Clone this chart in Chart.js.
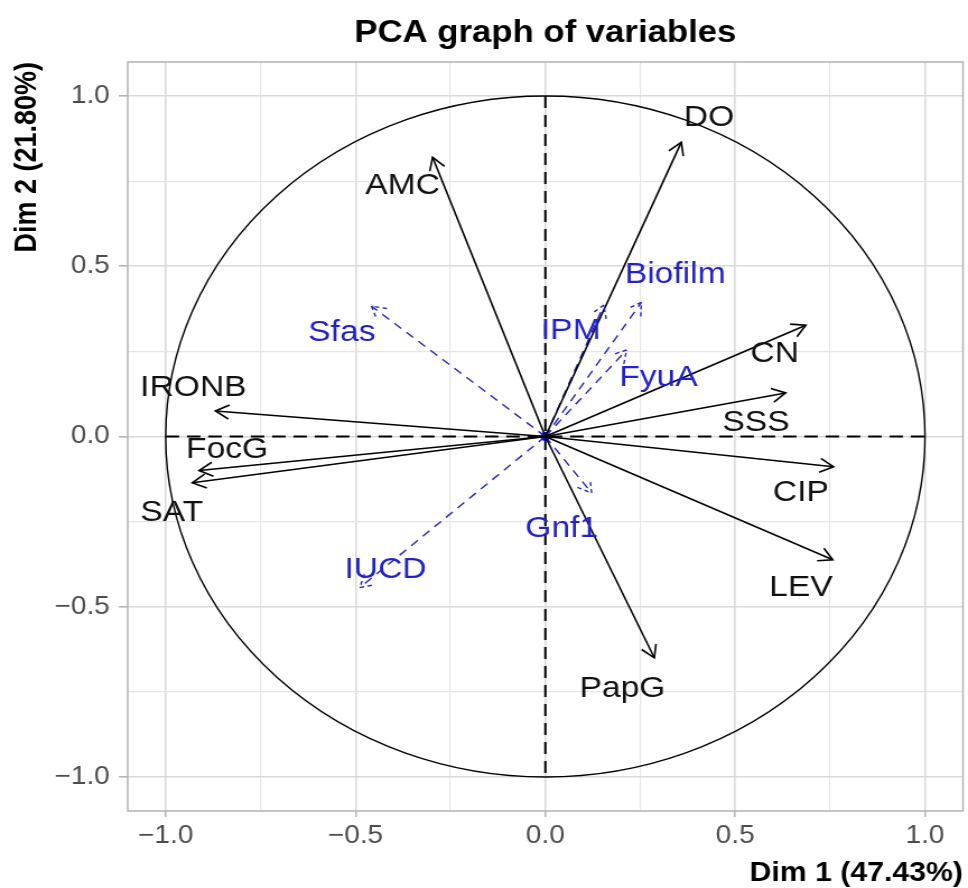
<!DOCTYPE html>
<html>
<head>
<meta charset="utf-8">
<title>PCA graph of variables</title>
<script src="https://cdn.jsdelivr.net/npm/chart.js@4/dist/chart.umd.min.js"></script>
<style>
    html, body { margin: 0; padding: 0; background: #fff; overflow: hidden; }
</style>
</head>
<body>
<!-- drawn at 864 wide, shown at 968 wide -->
<canvas id="pcaChart" width="864" height="888" style="display:block;width:968px;height:888px;"></canvas>
<script>
// Active variables (solid black arrows)
const activeVars = ['DO', 'AMC', 'IRONB', 'FocG', 'SAT', 'CN', 'SSS', 'CIP', 'LEV', 'PapG'];
const activeDim1 = [0.358, -0.297, -0.869, -0.912, -0.930, 0.686, 0.633, 0.759, 0.757, 0.287];
const activeDim2 = [0.864, 0.820, 0.075, -0.100, -0.136, 0.327, 0.128, -0.089, -0.362, -0.650];
const activeLabelX = [0.431, -0.376, -0.927, -0.838, -0.984, 0.604, 0.555, 0.673, 0.673, 0.203];
const activeLabelY = [0.937, 0.737, 0.142, -0.040, -0.224, 0.242, 0.040, -0.166, -0.444, -0.740];

// Supplementary variables (dashed blue arrows)
const suppVars = ['Sfas', 'IPM', 'Biofilm', 'FyuA', 'Gnf1', 'IUCD'];
const suppDim1 = [-0.458, 0.154, 0.253, 0.214, 0.122, -0.489];
const suppDim2 = [0.383, 0.386, 0.394, 0.254, -0.166, -0.444];
const suppLabelX = [-0.536, 0.067, 0.342, 0.298, 0.043, -0.421];
const suppLabelY = [0.306, 0.312, 0.474, 0.172, -0.271, -0.392];

// Axes
const gridValues = [-1, -0.75, -0.5, -0.25, 0, 0.25, 0.5, 0.75, 1];
const tickValues = [-1, -0.5, 0, 0.5, 1];
const tickLabels = ['\u22121.0', '\u22120.5', '0.0', '0.5', '1.0'];

const FONT = '"Liberation Sans", Arial, sans-serif';
const BLUE = '#2222cc';

Chart.defaults.font.family = FONT;

function isMajor(v) {
    return tickValues.some(t => Math.abs(t - v) < 1e-9);
}

function tickText(value) {
    const i = tickValues.findIndex(t => Math.abs(t - value) < 1e-9);
    return i >= 0 ? tickLabels[i] : '';
}

// Build one two-point line per variable, origin -> loadings
const datasets = [];
activeVars.forEach((name, i) => {
    datasets.push({
        label: name,
        kind: 'active',
        data: [{ x: 0, y: 0 }, { x: activeDim1[i], y: activeDim2[i] }],
        showLine: true,
        borderColor: '#000',
        borderWidth: 1.6,
        pointRadius: 0
    });
});
suppVars.forEach((name, i) => {
    datasets.push({
        label: name,
        kind: 'supp',
        data: [{ x: 0, y: 0 }, { x: suppDim1[i], y: suppDim2[i] }],
        showLine: true,
        borderColor: BLUE,
        borderWidth: 1.4,
        borderDash: [8, 6],
        pointRadius: 0
    });
});
datasets.push({
    label: 'origin',
    kind: 'origin',
    data: [{ x: 0, y: 0 }],
    pointRadius: 4.5,
    pointBackgroundColor: '#0000cc',
    pointBorderWidth: 0
});

function drawHead(ctx, x0, y0, x1, y1, len) {
    const ang = Math.atan2(y1 - y0, x1 - x0);
    ctx.beginPath();
    ctx.moveTo(x1 - len * Math.cos(ang - Math.PI / 6), y1 - len * Math.sin(ang - Math.PI / 6));
    ctx.lineTo(x1, y1);
    ctx.lineTo(x1 - len * Math.cos(ang + Math.PI / 6), y1 - len * Math.sin(ang + Math.PI / 6));
    ctx.stroke();
}

const pcaDecor = {
    id: 'pcaDecor',
    beforeDatasetsDraw(chart) {
        const { ctx, chartArea: a, scales: { x, y } } = chart;
        const cx = x.getPixelForValue(0);
        const cy = y.getPixelForValue(0);
        ctx.save();

        // panel border
        ctx.strokeStyle = '#b3b3b3';
        ctx.lineWidth = 1.5;
        ctx.strokeRect(a.left, a.top, a.right - a.left, a.bottom - a.top);

        // correlation circle
        ctx.strokeStyle = '#000';
        ctx.lineWidth = 1.4;
        ctx.beginPath();
        ctx.ellipse(cx, cy, x.getPixelForValue(1) - cx, cy - y.getPixelForValue(1), 0, 0, Math.PI * 2);
        ctx.stroke();

        // dashed axes through the origin
        ctx.lineWidth = 2;
        ctx.setLineDash([12, 7]);
        ctx.beginPath();
        ctx.moveTo(x.getPixelForValue(-1), cy);
        ctx.lineTo(x.getPixelForValue(1), cy);
        ctx.moveTo(cx, y.getPixelForValue(1));
        ctx.lineTo(cx, y.getPixelForValue(-1));
        ctx.stroke();
        ctx.restore();
    },
    afterDatasetsDraw(chart) {
        const { ctx, scales: { x, y } } = chart;
        ctx.save();

        // arrow heads
        chart.data.datasets.forEach((ds, i) => {
            if (ds.kind === 'origin') return;
            const pts = chart.getDatasetMeta(i).data;
            ctx.strokeStyle = ds.borderColor;
            ctx.lineWidth = ds.borderWidth;
            ctx.setLineDash(ds.kind === 'supp' ? [4, 3] : []);
            drawHead(ctx, pts[0].x, pts[0].y, pts[1].x, pts[1].y, 14);
        });
        ctx.setLineDash([]);

        // variable names
        ctx.font = '30px ' + FONT;
        ctx.textAlign = 'center';
        ctx.textBaseline = 'middle';
        ctx.fillStyle = '#111';
        activeVars.forEach((name, i) => {
            ctx.fillText(name, x.getPixelForValue(activeLabelX[i]), y.getPixelForValue(activeLabelY[i]));
        });
        ctx.fillStyle = BLUE;
        suppVars.forEach((name, i) => {
            ctx.fillText(name, x.getPixelForValue(suppLabelX[i]), y.getPixelForValue(suppLabelY[i]));
        });
        ctx.restore();
    },
    afterDraw(chart) {
        const { ctx, chartArea: a } = chart;
        ctx.save();
        ctx.font = 'bold 31px ' + FONT;
        ctx.fillStyle = '#000';
        ctx.textAlign = 'center';
        ctx.textBaseline = 'alphabetic';
        ctx.fillText('PCA graph of variables', (a.left + a.right) / 2, 42);
        ctx.restore();
    }
};

function gridOptions(tickLen) {
    return {
        color: c => isMajor(c.tick.value) ? '#dadada' : '#e6e6e6',
        lineWidth: c => isMajor(c.tick.value) ? 1.6 : 1.2,
        tickColor: c => isMajor(c.tick.value) ? '#b3b3b3' : 'rgba(0,0,0,0)',
        tickLength: tickLen,
        tickWidth: 1.5
    };
}

new Chart(document.getElementById('pcaChart'), {
    type: 'scatter',
    data: { datasets: datasets },
    options: {
        responsive: false,
        animation: false,
        layout: { padding: { top: 62, right: 1, left: 0, bottom: 0 } },
        plugins: {
            legend: { display: false },
            tooltip: { enabled: false },
            title: { display: false }
        },
        scales: {
            x: {
                type: 'linear',
                min: -1.1,
                max: 1.1,
                afterBuildTicks: s => { s.ticks = gridValues.map(v => ({ value: v })); },
                afterFit: s => { s.height = 77; },
                grid: gridOptions(6),
                border: { display: false },
                ticks: {
                    autoSkip: false,
                    maxRotation: 0,
                    padding: 4,
                    color: '#4d4d4d',
                    font: { size: 25 },
                    callback: v => tickText(v)
                },
                title: {
                    display: true,
                    text: 'Dim 1 (47.43%)',
                    align: 'end',
                    color: '#000',
                    font: { size: 27, weight: 'bold', lineHeight: 1 },
                    padding: { top: 0, bottom: 1 }
                }
            },
            y: {
                type: 'linear',
                min: -1.1,
                max: 1.1,
                afterBuildTicks: s => { s.ticks = gridValues.map(v => ({ value: v })); },
                afterFit: s => { s.width = 114; },
                grid: gridOptions(8),
                border: { display: false },
                ticks: {
                    autoSkip: false,
                    padding: 8,
                    color: '#4d4d4d',
                    font: { size: 25 },
                    callback: v => tickText(v)
                },
                title: {
                    display: true,
                    text: 'Dim 2 (21.80%)',
                    align: 'end',
                    color: '#000',
                    font: { size: 27, weight: 'bold', lineHeight: 1 },
                    padding: { top: 11, bottom: 0 }
                }
            }
        }
    },
    plugins: [pcaDecor]
});
</script>
</body>
</html>
